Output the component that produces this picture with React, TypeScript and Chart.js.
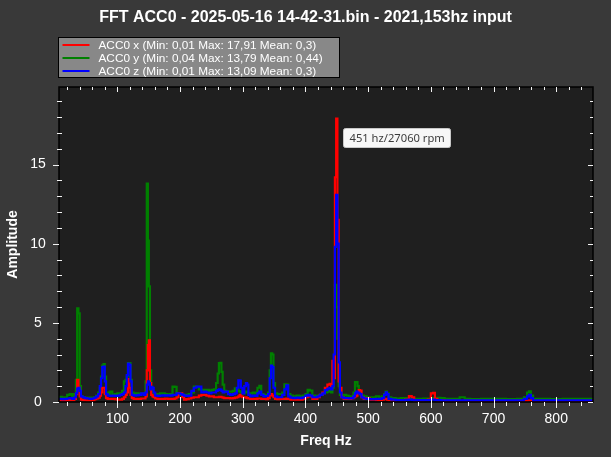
import React, { useEffect, useRef } from "react";
import { Chart, registerables } from "chart.js";

Chart.register(...registerables);

// ---- data ----
const TITLE = "FFT ACC0 - 2025-05-16 14-42-31.bin - 2021,153hz input";
const X_AXIS_TITLE = "Freq Hz";
const Y_AXIS_TITLE = "Amplitude";
const SERIES_LABELS = [
  "ACC0 x (Min: 0,01 Max: 17,91 Mean: 0,3)",
  "ACC0 y (Min: 0,04 Max: 13,79 Mean: 0,44)",
  "ACC0 z (Min: 0,01 Max: 13,09 Mean: 0,3)",
];
const SERIES_COLORS = ["#ff0000", "#008000", "#0000ff"];
const X_MIN = 7;
const X_MAX = 858.6;
const Y_MIN = 0;
const Y_MAX = 19.9;
const X_TICKS = [100, 200, 300, 400, 500, 600, 700, 800];
const Y_TICKS = [0, 5, 10, 15];
const PEAK_FREQ = 450;
const PEAK_AMP = 17.91;
const PEAK_LABEL = "451 hz/27060 rpm";

const FREQ_HZ = [
  7, 10, 14, 18, 22, 26, 30, 33, 35, 37, 39, 41, 43, 46, 50, 54, 58, 62, 65, 68,
  71, 73, 75, 77, 79, 81, 83, 86, 90, 94, 98, 102, 106, 109, 112, 114, 116, 118, 120, 122,
  124, 128, 132, 136, 140, 144, 146, 148, 149.5, 151, 153, 155, 157, 159, 162, 166, 170, 174, 178, 182,
  186, 190, 193, 196, 199, 202, 205, 208, 212, 216, 220, 224, 228, 232, 236, 240, 244, 248, 252, 256,
  259, 261, 263, 265, 267, 269, 272, 275, 278, 282, 286, 289, 292, 294, 296, 298, 301, 304, 306, 308,
  310, 314, 318, 322, 325, 328, 331, 335, 339, 342, 344, 346, 348, 350, 353, 357, 361, 365, 368, 371,
  374, 378, 383, 388, 393, 398, 402, 405, 409, 413, 417, 421, 425, 429, 433, 437, 440, 442, 444, 446,
  448, 450, 452, 454, 456, 459, 463, 467, 471, 475, 478, 480, 482, 484, 486, 488, 491, 495, 500, 505,
  510, 515, 520, 524, 527, 529, 531, 534, 540, 548, 556, 562, 568, 571, 576, 584, 592, 598, 602, 605,
  608, 613, 618, 626, 640, 652, 656, 670, 690, 710, 730, 745, 752, 755, 758, 761, 765, 780, 800, 820,
  840, 858,
];

const ACC0_X = [
  0.12, 0.12, 0.1, 0.1, 0.12, 0.12, 0.12, 0.2, 0.5, 1.4, 0.9, 0.35, 0.15, 0.12, 0.1, 0.08, 0.08, 0.1, 0.18, 0.22,
  0.28, 0.4, 0.6, 0.9, 0.9, 0.5, 0.25, 0.2, 0.2, 0.2, 0.18, 0.15, 0.15, 0.2, 0.3, 0.45, 0.6, 1.45, 0.9, 0.45,
  0.25, 0.2, 0.2, 0.2, 0.22, 0.22, 0.35, 2.0, 3.6, 3.9, 1.2, 0.45, 0.35, 0.3, 0.22, 0.2, 0.2, 0.2, 0.22, 0.2,
  0.2, 0.2, 0.22, 0.3, 0.55, 0.55, 0.3, 0.15, 0.18, 0.22, 0.28, 0.3, 0.3, 0.4, 0.45, 0.45, 0.4, 0.35, 0.35, 0.3,
  0.3, 0.3, 0.32, 0.32, 0.3, 0.28, 0.25, 0.25, 0.25, 0.22, 0.25, 0.28, 0.3, 0.35, 0.45, 0.35, 0.3, 0.3, 0.28, 0.25,
  0.22, 0.2, 0.2, 0.2, 0.22, 0.22, 0.2, 0.2, 0.18, 0.25, 0.45, 0.5, 0.4, 0.3, 0.2, 0.18, 0.2, 0.2, 0.2, 0.22,
  0.2, 0.15, 0.15, 0.15, 0.15, 0.2, 0.3, 0.4, 0.35, 0.2, 0.2, 0.3, 0.45, 0.6, 0.9, 1.1, 1.15, 1.0, 2.6, 1.5,
  14.2, 17.91, 11.5, 1.3, 0.9, 0.3, 0.2, 0.2, 0.2, 0.25, 0.3, 0.35, 0.4, 0.6, 0.75, 0.72, 0.3, 0.2, 0.25, 0.15,
  0.15, 0.12, 0.12, 0.15, 0.2, 0.2, 0.15, 0.12, 0.1, 0.12, 0.1, 0.15, 0.38, 0.3, 0.1, 0.1, 0.12, 0.15, 0.55, 0.58,
  0.2, 0.1, 0.1, 0.08, 0.08, 0.08, 0.08, 0.08, 0.08, 0.08, 0.08, 0.08, 0.08, 0.1, 0.1, 0.1, 0.08, 0.08, 0.08, 0.08,
  0.08, 0.08,
];

const ACC0_Y = [
  0.32, 0.33, 0.28, 0.3, 0.45, 0.5, 0.3, 0.5, 1.4, 5.92, 5.6, 1.0, 0.35, 0.3, 0.28, 0.25, 0.28, 0.25, 0.3, 0.4,
  0.6, 0.9, 1.6, 2.3, 2.4, 1.6, 0.6, 0.5, 0.65, 0.45, 0.5, 0.55, 0.5, 0.7, 1.3, 1.4, 1.6, 2.45, 2.45, 1.4,
  0.6, 0.5, 0.55, 0.5, 0.55, 0.55, 1.3, 13.79, 10.2, 7.3, 2.0, 0.9, 0.6, 0.5, 0.5, 0.45, 0.55, 0.55, 0.5, 0.45,
  0.5, 0.97, 0.95, 0.5, 0.45, 0.45, 0.45, 0.45, 0.45, 0.5, 0.6, 0.97, 0.95, 0.8, 0.76, 0.76, 0.76, 0.7, 0.76, 0.8,
  1.2, 1.8, 2.45, 2.48, 1.9, 1.1, 0.7, 0.65, 0.65, 0.65, 0.7, 0.87, 0.8, 0.7, 0.65, 0.6, 0.55, 0.6, 0.65, 0.6,
  0.55, 0.55, 0.6, 0.55, 0.9, 1.02, 0.5, 0.45, 0.45, 0.6, 2.0, 3.08, 3.0, 1.2, 0.55, 0.5, 0.5, 0.6, 1.12, 1.1,
  0.5, 0.4, 0.35, 0.4, 0.35, 0.4, 0.5, 0.76, 0.72, 0.4, 0.35, 0.4, 0.45, 0.55, 0.6, 0.7, 0.65, 0.6, 0.9, 2.4,
  7.4, 6.0, 4.0, 1.0, 0.45, 0.4, 0.45, 0.4, 0.35, 0.35, 0.6, 1.26, 1.26, 1.0, 0.6, 0.5, 0.4, 0.35, 0.3, 0.3,
  0.3, 0.35, 0.3, 0.35, 0.5, 0.65, 0.55, 0.3, 0.25, 0.22, 0.25, 0.25, 0.25, 0.22, 0.2, 0.2, 0.22, 0.2, 0.22, 0.25,
  0.25, 0.27, 0.25, 0.2, 0.2, 0.3, 0.2, 0.18, 0.2, 0.2, 0.18, 0.2, 0.3, 0.6, 0.68, 0.4, 0.2, 0.2, 0.18, 0.2,
  0.2, 0.2,
];

const ACC0_Z = [
  0.2, 0.2, 0.18, 0.2, 0.22, 0.25, 0.2, 0.3, 0.55, 0.85, 0.9, 0.7, 0.35, 0.3, 0.25, 0.22, 0.2, 0.22, 0.28, 0.35,
  0.5, 1.0, 1.5, 2.2, 2.23, 1.3, 0.5, 0.4, 0.38, 0.4, 0.38, 0.4, 0.45, 0.5, 0.6, 1.0, 1.7, 2.42, 2.35, 1.3,
  0.45, 0.4, 0.42, 0.45, 0.55, 0.45, 0.6, 1.1, 1.3, 1.2, 0.8, 0.95, 0.9, 0.6, 0.4, 0.38, 0.4, 0.42, 0.4, 0.42,
  0.4, 0.45, 0.45, 0.55, 0.55, 0.5, 0.45, 0.4, 0.38, 0.4, 0.7, 0.9, 0.97, 0.97, 0.6, 0.65, 0.6, 0.55, 0.6, 0.6,
  0.7, 0.75, 0.8, 0.78, 0.7, 0.6, 0.65, 0.65, 0.5, 0.45, 0.5, 0.55, 0.9, 1.37, 1.35, 0.9, 0.55, 1.0, 1.2, 1.1,
  0.45, 0.35, 0.4, 0.38, 0.55, 0.65, 0.45, 0.35, 0.38, 0.5, 1.5, 2.3, 2.2, 0.9, 0.35, 0.3, 0.3, 0.45, 0.8, 1.05,
  0.35, 0.28, 0.25, 0.28, 0.25, 0.3, 0.4, 0.45, 0.4, 0.3, 0.3, 0.35, 0.45, 0.55, 0.75, 0.85, 0.9, 0.8, 1.0, 3.0,
  9.8, 13.09, 10.0, 2.5, 0.6, 0.3, 0.25, 0.25, 0.22, 0.25, 0.35, 0.55, 0.65, 0.6, 0.55, 0.5, 0.3, 0.22, 0.2, 0.18,
  0.18, 0.2, 0.2, 0.25, 0.45, 0.61, 0.5, 0.2, 0.15, 0.12, 0.12, 0.13, 0.15, 0.13, 0.12, 0.12, 0.12, 0.12, 0.15, 0.15,
  0.12, 0.12, 0.1, 0.1, 0.1, 0.1, 0.1, 0.1, 0.1, 0.1, 0.1, 0.1, 0.2, 0.35, 0.45, 0.25, 0.1, 0.1, 0.1, 0.1,
  0.1, 0.1,
];

// ---- layout / style ----
const W = 611;
const H = 457;
const BG = "#393939";
const PLOT_BG = "#1f1f1f";
const TEXT = "#ffffff";
const FONT = '"Liberation Sans", Arial, sans-serif';

const decorPlugin = {
  id: "decor",
  beforeDraw(chart: any) {
    const { ctx, chartArea: ca } = chart;
    ctx.save();
    ctx.fillStyle = BG;
    ctx.fillRect(0, 0, chart.width, chart.height);
    ctx.fillStyle = PLOT_BG;
    ctx.fillRect(ca.left, ca.top, ca.right - ca.left, ca.bottom - ca.top);
    ctx.restore();
  },
  afterDraw(chart: any) {
    const { ctx, chartArea: ca } = chart;
    const xs = chart.scales.x;
    const ys = chart.scales.y;
    ctx.save();

    // plot border
    ctx.strokeStyle = "#000000";
    ctx.lineWidth = 1.5;
    ctx.strokeRect(ca.left, ca.top, ca.right - ca.left, ca.bottom - ca.top);

    // ticks
    ctx.strokeStyle = "#f2f2f2";
    ctx.lineWidth = 1;
    ctx.beginPath();
    for (let f = 20; f < X_MAX; f += 20) {
      const x = Math.round(xs.getPixelForValue(f)) + 0.5;
      const major = f % 100 === 0;
      if (major) {
        ctx.moveTo(x, ca.bottom - 5);
        ctx.lineTo(x, ca.bottom + 6);
        ctx.moveTo(x, ca.top);
        ctx.lineTo(x, ca.top + 5);
      } else {
        ctx.moveTo(x, ca.bottom);
        ctx.lineTo(x, ca.bottom + 4);
        ctx.moveTo(x, ca.top);
        ctx.lineTo(x, ca.top + 3);
      }
    }
    for (let v = 0; v < Y_MAX; v += 1) {
      const y = Math.round(ys.getPixelForValue(v)) + 0.5;
      const major = v % 5 === 0;
      if (major) {
        ctx.moveTo(ca.left - 6, y);
        ctx.lineTo(ca.left, y);
        ctx.moveTo(ca.right - 5, y);
        ctx.lineTo(ca.right, y);
      } else {
        ctx.moveTo(ca.left - 2, y);
        ctx.lineTo(ca.left + 3, y);
        ctx.moveTo(ca.right - 3, y);
        ctx.lineTo(ca.right, y);
      }
    }
    ctx.stroke();

    // tick labels
    ctx.fillStyle = TEXT;
    ctx.font = `14px ${FONT}`;
    ctx.textAlign = "center";
    ctx.textBaseline = "middle";
    X_TICKS.forEach((t) => {
      ctx.fillText(String(t), xs.getPixelForValue(t), ca.bottom + 17);
    });
    Y_TICKS.forEach((t) => {
      ctx.fillText(String(t), ca.left - 21, ys.getPixelForValue(t));
    });

    // axis titles
    ctx.font = `bold 14px ${FONT}`;
    ctx.fillText(X_AXIS_TITLE, (ca.left + ca.right) / 2, 441);
    ctx.save();
    ctx.translate(13.5, (ca.top + ca.bottom) / 2);
    ctx.rotate(-Math.PI / 2);
    ctx.fillText(Y_AXIS_TITLE, 0, 0);
    ctx.restore();

    // title
    ctx.font = `bold 16px ${FONT}`;
    ctx.fillText(TITLE, W / 2, 18);

    // legend
    const lx = 58.5;
    const ly = 37.5;
    const lw = 281;
    const lh = 40;
    ctx.fillStyle = "#888888";
    ctx.fillRect(lx, ly, lw, lh);
    ctx.strokeStyle = "#000000";
    ctx.lineWidth = 1;
    ctx.strokeRect(lx, ly, lw, lh);
    ctx.font = `11.8px ${FONT}`;
    ctx.textAlign = "left";
    SERIES_LABELS.forEach((label, i) => {
      const cy = ly + 7.5 + i * 13;
      ctx.strokeStyle = SERIES_COLORS[i];
      ctx.lineWidth = 2;
      ctx.beginPath();
      ctx.moveTo(lx + 4, cy);
      ctx.lineTo(lx + 31, cy);
      ctx.stroke();
      ctx.fillStyle = TEXT;
      ctx.fillText(label, lx + 40, cy + 0.5);
    });

    // peak annotation
    const px = xs.getPixelForValue(PEAK_FREQ);
    const py = ys.getPixelForValue(PEAK_AMP);
    ctx.font = `11.2px "Noto Sans", "Open Sans", sans-serif`;
    const tw = ctx.measureText(PEAK_LABEL).width;
    const bx = Math.round(px + 6) + 0.5;
    const by = Math.round(py + 9) + 0.5;
    const bw = Math.round(tw + 12);
    const bh = 19;
    ctx.fillStyle = "#f7f7f7";
    ctx.strokeStyle = "#c8c8c8";
    ctx.lineWidth = 1;
    ctx.beginPath();
    ctx.roundRect(bx, by, bw, bh, 2);
    ctx.fill();
    ctx.stroke();
    ctx.fillStyle = "#3c3c3c";
    ctx.textAlign = "left";
    ctx.fillText(PEAK_LABEL, bx + 6, by + bh / 2 + 0.5);

    ctx.restore();
  },
};

export default function App() {
  const canvasRef = useRef<HTMLCanvasElement | null>(null);

  useEffect(() => {
    document.body.style.margin = "0";
    const canvas = canvasRef.current;
    if (!canvas) return;
    const series = [ACC0_X, ACC0_Y, ACC0_Z];
    const drawOrder = [1, 2, 0];
    const chart = new Chart(canvas, {
      type: "line",
      data: {
        datasets: series.map((vals, i) => ({
          label: SERIES_LABELS[i],
          data: FREQ_HZ.map((f, j) => ({ x: f, y: vals[j] })),
          borderColor: SERIES_COLORS[i],
          backgroundColor: SERIES_COLORS[i],
          borderWidth: 2.2,
          pointRadius: 0,
          stepped: "middle" as const,
          order: drawOrder[i],
        })),
      },
      options: {
        animation: false,
        responsive: false,
        devicePixelRatio: 1,
        layout: { padding: { left: 59, top: 87, right: W - 593, bottom: H - 402 } },
        plugins: {
          legend: { display: false },
          title: { display: false },
          tooltip: { enabled: false },
        },
        scales: {
          x: { type: "linear", min: X_MIN, max: X_MAX, display: false },
          y: { type: "linear", min: Y_MIN, max: Y_MAX, display: false },
        },
      },
      plugins: [decorPlugin],
    });
    return () => chart.destroy();
  }, []);

  return (
    <div style={{ width: W, height: H }}>
      <canvas ref={canvasRef} width={W} height={H} style={{ display: "block" }} />
    </div>
  );
}
